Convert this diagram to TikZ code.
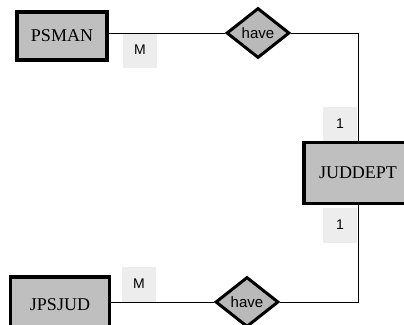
\documentclass[tikz,border=0pt]{standalone}
\usepackage{fontspec}
\setmainfont{Liberation Serif}
\newfontfamily\labelfont{Liberation Sans}
\usetikzlibrary{shapes.geometric}

\begin{document}
\begin{tikzpicture}[x=1pt, y=-1pt,
    entity/.style={rectangle, draw, line width=3.2pt, fill=gray!50, inner sep=0pt,
        font=\fontsize{18}{18}\selectfont},
    rel/.style={diamond, draw, line width=3pt, fill=gray!55, inner sep=0pt,
        minimum width=63pt, minimum height=50pt, font=\labelfont\fontsize{15}{15}\selectfont},
    card/.style={fill=gray!14, inner sep=0pt, minimum width=34pt, minimum height=35pt,
        font=\labelfont\fontsize{14}{14}\selectfont}]
    \useasboundingbox (0,0) rectangle (404,324);
    \clip (0,0) rectangle (404,324);
    % cardinality labels first, so the lines run over them
    \node[card] (m1) at (140,50) {M};
    \node[card] (one1) at (340,124) {1};
    \node[card] (one2) at (340,225) {1};
    \node[card] (m2) at (139,284) {M};
    % entities and relationships
    \node[entity, minimum width=90pt, minimum height=48pt] (psman) at (62,36) {PSMAN};
    \node[entity, minimum width=108pt, minimum height=61pt] (juddept) at (358,173) {JUDDEPT};
    \node[entity, minimum width=99pt, minimum height=56pt] (jpsjud) at (60,305) {JPSJUD};
    \node[rel] (have1) at (258,33) {have};
    \node[rel] (have2) at (247,302) {have};
    % connectors
    \draw[line width=0.9pt] (have1.west) -- (have1.west -| psman.east);
    \draw[line width=0.9pt] (have1.east) -| (juddept.north);
    \draw[line width=0.9pt] (juddept.south) |- (have2.east);
    \draw[line width=0.9pt] (have2.west) -- (have2.west -| jpsjud.east);
\end{tikzpicture}
\end{document}
